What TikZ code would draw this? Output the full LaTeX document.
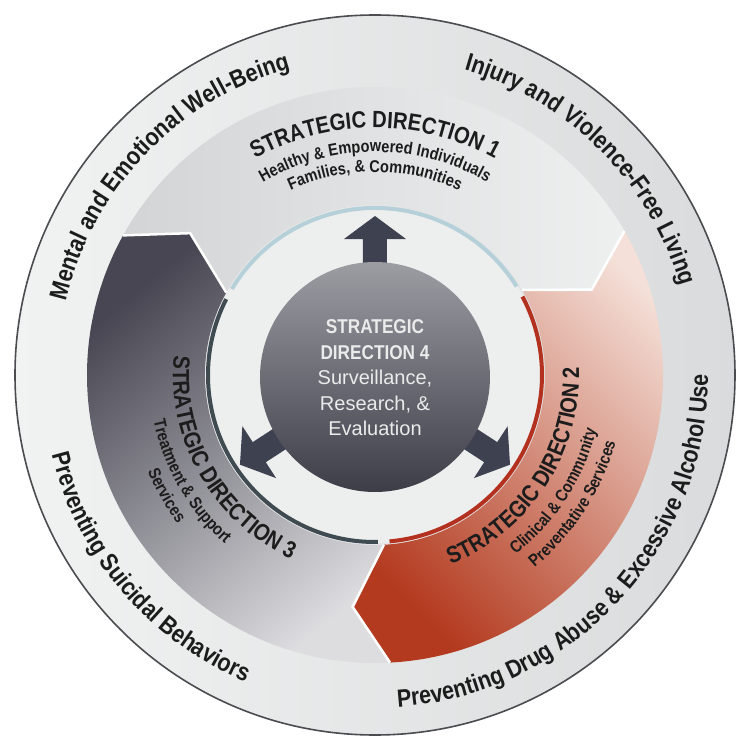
\documentclass[tikz,border=0pt]{standalone}
\usepackage{fontspec}
\setmainfont{Liberation Sans}
\newfontfamily\condfont[FakeStretch=0.86]{Liberation Sans}
\usetikzlibrary{decorations.text}

\definecolor{rimline}{HTML}{4A4C50}
\definecolor{ringlight}{HTML}{F1F2F2}
\definecolor{ringdark}{HTML}{D9DBDC}
\definecolor{dirgreyA}{HTML}{D2D4D6}
\definecolor{dirgreyB}{HTML}{EEF0F0}
\definecolor{dirredA}{HTML}{B33A1F}
\definecolor{dirredB}{HTML}{F4E0D8}
\definecolor{dirslateA}{HTML}{474652}
\definecolor{dirslateB}{HTML}{DDDDE0}
\definecolor{innerring}{HTML}{EDEFEF}
\definecolor{edgeblue}{HTML}{B5D0D8}
\definecolor{edgered}{HTML}{B3311E}
\definecolor{edgeslate}{HTML}{3F4B50}
\definecolor{arrowink}{HTML}{3E4250}
\definecolor{coretop}{HTML}{9C9CA3}
\definecolor{corebottom}{HTML}{3D3D48}
\definecolor{coreink}{HTML}{EBEBEB}
\definecolor{ink}{HTML}{1C1C1C}

\newcommand{\bigcond}{\condfont\bfseries\fontsize{25}{28}\selectfont\color{ink}}
\newcommand{\headcond}{\condfont\bfseries\fontsize{23.5}{26}\selectfont\color{ink}}
\newcommand{\subcond}{\condfont\bfseries\fontsize{17}{19}\selectfont\color{ink}}
\newcommand{\corehead}{\condfont\bfseries}

\begin{document}
\begin{tikzpicture}[x=1pt,y=1pt,
    ringtext/.style={decorate, decoration={text along path, text align=center, text={#1}}},
    seam/.style={white, line width=2.5pt, line join=miter}]
    \useasboundingbox (-375,-362) rectangle (361,375);
    \fill[white] (-375,-362) rectangle (361,375);
    % outer band
    \shade[left color=ringlight, right color=ringdark] (0,0) circle[radius=360];
    \draw[rimline, line width=1.6pt] (0,0) circle[radius=360];
    % sector 1
    \shade[top color=dirgreyB, bottom color=dirgreyA, shading angle=-90]
        (151:288) arc[start angle=151, end angle=30, radius=288] -- (21.5:233) -- (30:170)
        arc[start angle=30, end angle=151, radius=170] -- (142.5:233) -- cycle;
    % sector 2
    \shade[top color=dirredB, bottom color=dirredA, shading angle=-45]
        (30:288) arc[start angle=30, end angle=-87, radius=288] -- (-95.5:233) -- (-87:170)
        arc[start angle=-87, end angle=30, radius=170] -- (21.5:233) -- cycle;
    % sector 3
    \shade[top color=dirslateA, bottom color=dirslateB, shading angle=40]
        (-87:288) arc[start angle=-87, end angle=-209, radius=288] -- (142.5:233) -- (151:170)
        arc[start angle=151, end angle=273, radius=170] -- (-95.5:233) -- cycle;
    \draw[seam] (151:288) -- (142.5:233) -- (151:170);
    \draw[seam] (30:288) -- (21.5:233) -- (30:170);
    \draw[seam] (-87:288) -- (-95.5:233) -- (-87:170);
    % inner ring and edges
    \fill[innerring] (0,0) circle[radius=168];
    \draw[edgeblue, line width=4pt] (149:167) arc[start angle=149, end angle=32, radius=167];
    \draw[edgered, line width=4pt] (28:167) arc[start angle=28, end angle=-85, radius=167];
    \draw[edgeslate, line width=4pt] (-89:167) arc[start angle=-89, end angle=-207, radius=167];
    % arrows and core
    \foreach \a in {90,213,-33}
        \fill[arrowink, shift={(0,-2)}, rotate=\a] (100,-12) -- (138,-12) -- (138,-31) -- (161,0)
            -- (138,31) -- (138,12) -- (100,12) -- cycle;
    \shade[top color=coretop, bottom color=corebottom] (0,-2) circle[radius=115];
    \node[align=center, text=coreink, font=\fontsize{20}{25.5}\selectfont] (core) at (0,-3)
        {\corehead STRATEGIC\\\corehead DIRECTION 4\\Surveillance,\\Research, \&\\Evaluation};
    % outer band texts
    \path[ringtext={|\bigcond|Mental and Emotional Well-Being}]
        (167:318) arc[start angle=167, end angle=105, radius=318];
    \path[ringtext={|\bigcond|Injury and Violence-Free Living}]
        (76:318) arc[start angle=76, end angle=14, radius=318];
    \path[ringtext={|\bigcond|Preventing Drug Abuse {\&} Excessive Alcohol Use}]
        (-96:333) arc[start angle=-96, end angle=10, radius=333];
    \path[ringtext={|\bigcond|Preventing Suicidal Behaviors}]
        (-172:333) arc[start angle=-172, end angle=-107, radius=333];
    % direction 1
    \path[ringtext={|\headcond|STRATEGIC DIRECTION 1}]
        (130:247) arc[start angle=130, end angle=50, radius=247];
    \path[ringtext={|\subcond|Healthy {\&} Empowered Individuals}]
        (130:223) arc[start angle=130, end angle=50, radius=223];
    \path[ringtext={|\subcond|Families, {\&} Communities}]
        (130:203) arc[start angle=130, end angle=50, radius=203];
    % direction 2
    \path[ringtext={|\headcond|STRATEGIC DIRECTION 2}]
        (-78:204) arc[start angle=-78, end angle=12, radius=204];
    \path[ringtext={|\subcond|Clinical {\&} Community}]
        (-78:228) arc[start angle=-78, end angle=12, radius=228];
    \path[ringtext={|\subcond|Preventative Services}]
        (-78:250) arc[start angle=-78, end angle=12, radius=250];
    % direction 3
    \path[ringtext={|\headcond|STRATEGIC DIRECTION 3}]
        (165:202) arc[start angle=165, end angle=255, radius=202];
    \path[ringtext={|\subcond|Treatment {\&} Support}]
        (165:226) arc[start angle=165, end angle=255, radius=226];
    \path[ringtext={|\subcond|Services}]
        (165:247) arc[start angle=165, end angle=255, radius=247];
\end{tikzpicture}
\end{document}
